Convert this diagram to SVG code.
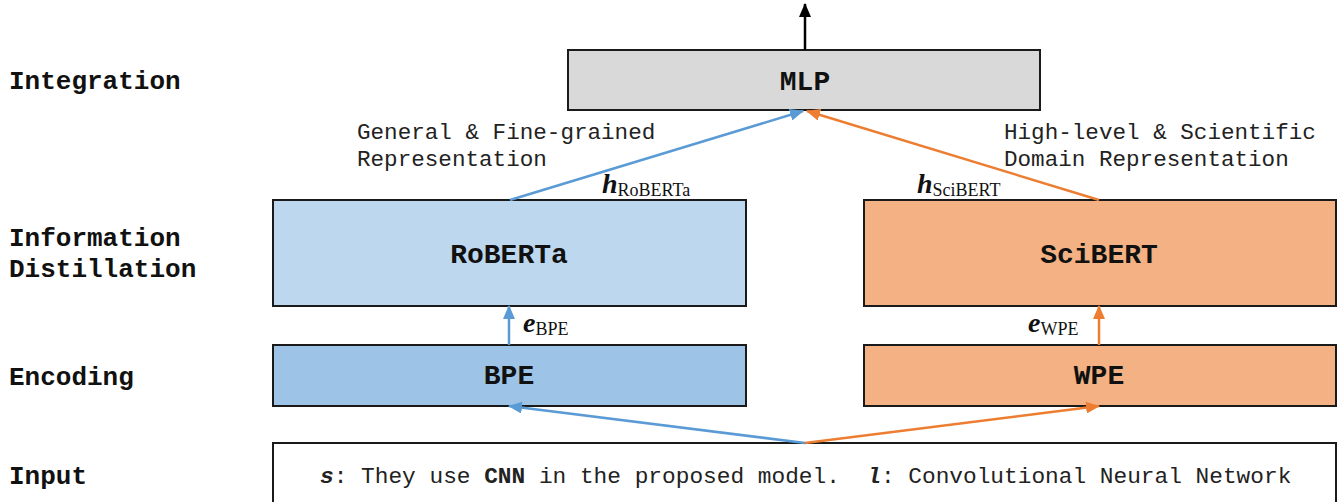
<svg xmlns="http://www.w3.org/2000/svg" width="1341" height="502" viewBox="0 0 1341 502">
<style>
.box{stroke:#1a1a1a;stroke-width:2}
.lbl{font-family:"Liberation Mono",monospace;font-weight:bold;font-size:26px;fill:#111}
.node{font-family:"Liberation Mono",monospace;font-weight:bold;font-size:28px;fill:#111;text-anchor:middle}
.desc{font-family:"Liberation Mono",monospace;font-size:22.6px;fill:#222}
.in{font-family:"Liberation Mono",monospace;font-size:22.8px;fill:#222}
.math{font-family:"Liberation Serif",serif;font-size:28px;font-weight:bold;font-style:italic;fill:#111}
.sub{font-family:"Liberation Serif",serif;font-size:18px;font-weight:normal;font-style:normal}
.blue{stroke:#5B9BD5;stroke-width:2.5;fill:none}
.orange{stroke:#ED7D31;stroke-width:2.5;fill:none}
.black{stroke:#000;stroke-width:2.5;fill:none}
</style>
<defs>
<marker id="ab" markerUnits="userSpaceOnUse" markerWidth="14" markerHeight="12" refX="13" refY="6" orient="auto"><path d="M0,0 L14,6 L0,12 Z" fill="#5B9BD5"/></marker>
<marker id="ao" markerUnits="userSpaceOnUse" markerWidth="14" markerHeight="12" refX="13" refY="6" orient="auto"><path d="M0,0 L14,6 L0,12 Z" fill="#ED7D31"/></marker>
<marker id="ak" markerUnits="userSpaceOnUse" markerWidth="14" markerHeight="12" refX="13" refY="6" orient="auto"><path d="M0,0 L14,6 L0,12 Z" fill="#000"/></marker>
</defs>
<rect width="1341" height="502" fill="#fff"/>
<g id="layer-labels">
<text class="lbl" x="9" y="89">Integration</text>
<text class="lbl" x="9" y="246">Information</text>
<text class="lbl" x="9" y="277">Distillation</text>
<text class="lbl" x="9" y="385">Encoding</text>
<text class="lbl" x="9" y="484">Input</text>
</g>
<g id="mlp"><rect class="box" x="568" y="50" width="472" height="60" fill="#D9D9D9"/><text class="node" x="805" y="90">MLP</text></g>
<g id="roberta"><rect class="box" x="273" y="200" width="473" height="106" fill="#BDD7EE"/><text class="node" x="509" y="263">RoBERTa</text></g>
<g id="scibert"><rect class="box" x="864" y="200" width="472" height="106" fill="#F4B183"/><text class="node" x="1099" y="263">SciBERT</text></g>
<g id="bpe"><rect class="box" x="273" y="345" width="473" height="61" fill="#9DC3E6"/><text class="node" x="509" y="384">BPE</text></g>
<g id="wpe"><rect class="box" x="864" y="345" width="472" height="61" fill="#F4B183"/><text class="node" x="1099" y="384">WPE</text></g>
<g id="input"><rect class="box" x="273" y="443" width="1063" height="70" fill="#fff"/>
<text class="in" x="320" y="483" xml:space="preserve"><tspan font-weight="bold" font-style="italic">s</tspan>: They use <tspan font-weight="bold">CNN</tspan> in the proposed model.  <tspan font-weight="bold" font-style="italic">l</tspan>: Convolutional Neural Network</text></g>
<g id="connectors">
<line class="black" x1="805" y1="50" x2="805" y2="4" marker-end="url(#ak)"/>
<line class="blue" x1="510" y1="200" x2="803" y2="111" marker-end="url(#ab)"/>
<line class="orange" x1="1099" y1="200" x2="807" y2="111" marker-end="url(#ao)"/>
<line class="blue" x1="509" y1="345" x2="509" y2="306" marker-end="url(#ab)"/>
<line class="orange" x1="1099" y1="345" x2="1099" y2="306" marker-end="url(#ao)"/>
<line class="blue" x1="805" y1="443" x2="509" y2="406" marker-end="url(#ab)"/>
<line class="orange" x1="805" y1="443" x2="1099" y2="406" marker-end="url(#ao)"/>
</g>
<g id="connector-labels">
<text class="desc" x="357" y="139">General &amp; Fine-grained</text>
<text class="desc" x="357" y="166">Representation</text>
<text class="desc" x="1004" y="139">High-level &amp; Scientific</text>
<text class="desc" x="1004" y="166">Domain Representation</text>
<text class="math" x="602" y="193">h<tspan class="sub" dy="3">RoBERTa</tspan></text>
<text class="math" x="917" y="193">h<tspan class="sub" dy="3">SciBERT</tspan></text>
<text class="math" x="523" y="332">e<tspan class="sub" dy="3">BPE</tspan></text>
<text class="math" x="1028" y="332">e<tspan class="sub" dy="3">WPE</tspan></text>
</g>
</svg>
